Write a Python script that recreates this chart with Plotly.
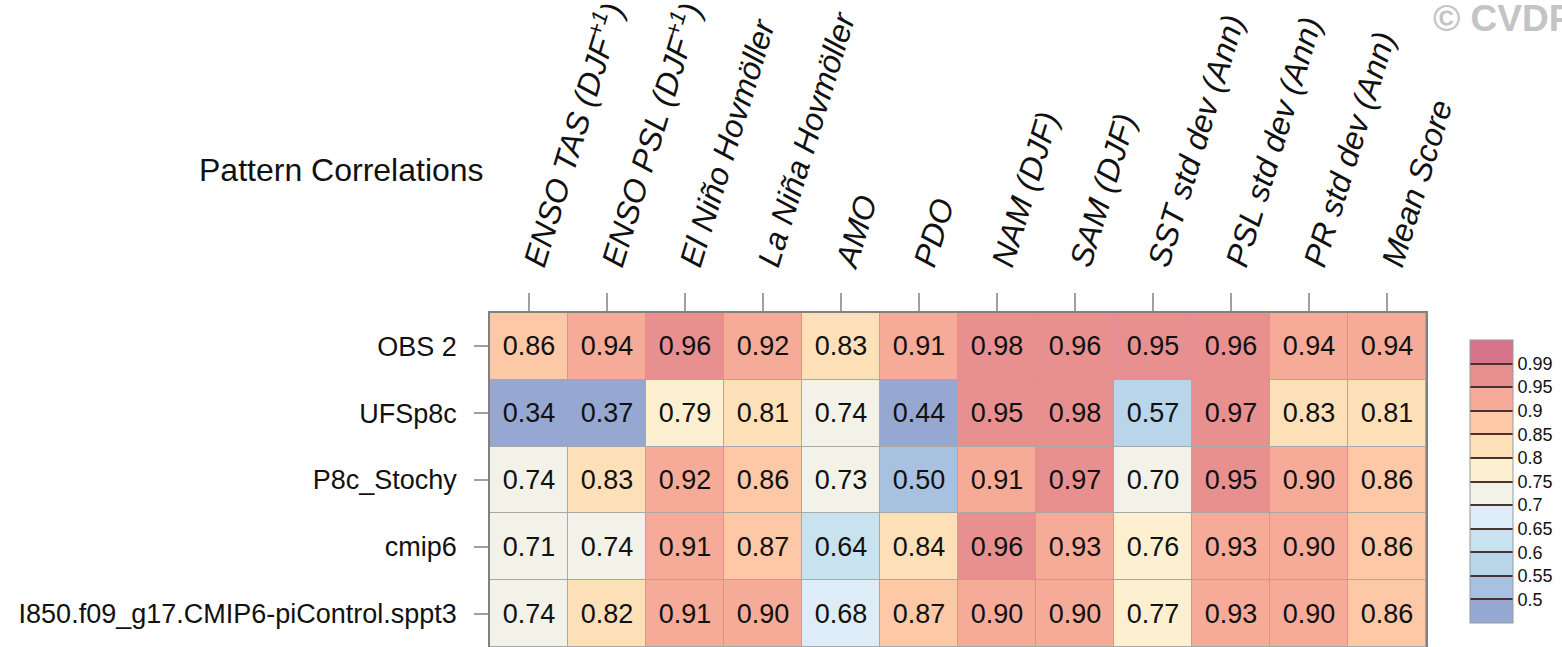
import numpy as np
import plotly.graph_objects as go

# Metrics (columns) and runs (rows)
metrics = [
    "ENSO TAS (DJF<sup>+1</sup>)", "ENSO PSL (DJF<sup>+1</sup>)", "El Niño Hovmöller",
    "La Niña Hovmöller", "AMO", "PDO", "NAM (DJF)", "SAM (DJF)",
    "SST std dev (Ann)", "PSL std dev (Ann)", "PR std dev (Ann)", "Mean Score",
]
runs = ["OBS 2", "UFSp8c", "P8c_Stochy", "cmip6", "I850.f09_g17.CMIP6-piControl.sppt3"]

obs2 = [0.86, 0.94, 0.96, 0.92, 0.83, 0.91, 0.98, 0.96, 0.95, 0.96, 0.94, 0.94]
ufsp8c = [0.34, 0.37, 0.79, 0.81, 0.74, 0.44, 0.95, 0.98, 0.57, 0.97, 0.83, 0.81]
p8c_stochy = [0.74, 0.83, 0.92, 0.86, 0.73, 0.50, 0.91, 0.97, 0.70, 0.95, 0.90, 0.86]
cmip6 = [0.71, 0.74, 0.91, 0.87, 0.64, 0.84, 0.96, 0.93, 0.76, 0.93, 0.90, 0.86]
sppt3 = [0.74, 0.82, 0.91, 0.90, 0.68, 0.87, 0.90, 0.90, 0.77, 0.93, 0.90, 0.86]

# Contour levels and fill colours (one more colour than levels)
levels = [0.5, 0.55, 0.6, 0.65, 0.7, 0.75, 0.8, 0.85, 0.9, 0.95, 0.99]
level_labels = ["0.5", "0.55", "0.6", "0.65", "0.7", "0.75", "0.8", "0.85", "0.9", "0.95", "0.99"]
fill_colors = [
    "#96a8d2", "#a9c1e0", "#b9d5ea", "#c9e2ef", "#ddecf6", "#f2f2e8",
    "#fdf0d1", "#fde0b8", "#fcc8a5", "#f6ab99", "#e8908f", "#d5748a",
]

vals = np.array([obs2, ufsp8c, p8c_stochy, cmip6, sppt3])
bins = np.searchsorted(np.array(levels), vals, side="right")
labels = [[f"{v:.2f}" for v in row] for row in vals]

n = len(fill_colors)
colorscale = []
for i, c in enumerate(fill_colors):
    colorscale.append([i / n, c])
    colorscale.append([(i + 1) / n, c])

SANS = "Liberation Sans, Arial, Helvetica, sans-serif"

W, H = 1562, 647

fig = go.Figure(
    go.Heatmap(
        z=bins,
        x=list(range(len(metrics))),
        y=list(range(len(runs))),
        text=labels,
        texttemplate="%{text}",
        textfont=dict(family=SANS, size=27, color="#111111"),
        colorscale=colorscale,
        zmin=-0.5,
        zmax=n - 0.5,
        xgap=1,
        ygap=1,
        hoverinfo="skip",
        colorbar=dict(
            tickvals=[i + 0.5 for i in range(len(levels))],
            ticktext=level_labels,
            ticks="inside",
            ticklen=43,
            tickwidth=1.5,
            tickcolor="#4a3232",
            tickfont=dict(family=SANS, size=18, color="#111111"),
            thickness=43,
            thicknessmode="pixels",
            len=283,
            lenmode="pixels",
            x=1470 / W,
            xanchor="left",
            y=1 - 481.5 / H,
            yanchor="middle",
            xpad=0,
            ypad=0,
            outlinecolor="#9a9a9a",
            outlinewidth=1,
        ),
    )
)

fig.update_layout(
    width=W,
    height=H,
    margin=dict(l=0, r=0, t=0, b=0, autoexpand=False),
    paper_bgcolor="white",
    plot_bgcolor="#a8a8a8",
    showlegend=False,
    xaxis=dict(
        domain=[490 / W, 1426 / W],
        side="top",
        automargin=False,
        range=[-0.5, len(metrics) - 0.5],
        tickmode="array",
        tickvals=list(range(len(metrics))),
        ticktext=metrics,
        tickangle=-73,
        ticks="outside",
        ticklen=18,
        tickwidth=1.5,
        tickcolor="#a0a0a0",
        tickfont=dict(family=SANS, size=32, color="#111111", style="italic"),
        showline=True,
        linecolor="#808080",
        linewidth=1.5,
        mirror=False,
        showgrid=False,
        zeroline=False,
    ),
    yaxis=dict(
        domain=[0, (H - 313) / H],
        automargin=False,
        range=[len(runs) - 0.5, -0.5],
        tickmode="array",
        tickvals=list(range(len(runs))),
        ticktext=runs,
        ticks="outside",
        ticklen=14,
        tickwidth=1.5,
        tickcolor="#a0a0a0",
        ticklabelstandoff=12,
        tickfont=dict(family=SANS, size=27, color="#111111"),
        showline=True,
        linecolor="#808080",
        linewidth=1.5,
        mirror=True,
        showgrid=False,
        zeroline=False,
    ),
    annotations=[
        dict(
            text="Pattern Correlations",
            xref="paper", yref="paper",
            x=486 / W, y=1 - 170 / H,
            xanchor="right", yanchor="middle",
            showarrow=False,
            font=dict(family=SANS, size=32, color="#111111"),
        ),
        dict(
            text="© CVDP",
            xref="paper", yref="paper",
            x=1431 / W, y=1 + 4 / H,
            xanchor="left", yanchor="top",
            showarrow=False,
            font=dict(family=SANS, size=37, color="#c4c4c4", weight="bold"),
        ),
    ],
)

fig.write_html("out.html")
